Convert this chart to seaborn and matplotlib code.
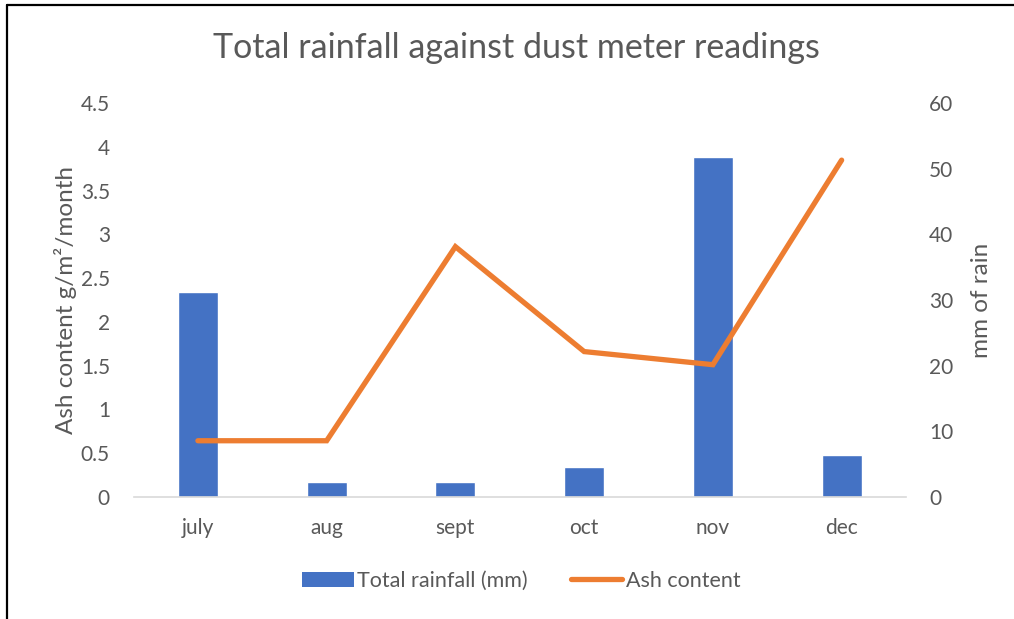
import numpy as np
import pandas as pd
import matplotlib
matplotlib.use("Agg")
import matplotlib.pyplot as plt
from matplotlib.lines import Line2D
from matplotlib.patches import Patch
import seaborn as sns

months = ["july", "aug", "sept", "oct", "nov", "dec"]
rainfall_mm = [31.2, 2.3, 2.3, 4.5, 51.8, 6.3]
ash_content = [0.64, 0.64, 2.86, 1.66, 1.51, 3.85]

ash_ticks = [0, 0.5, 1, 1.5, 2, 2.5, 3, 3.5, 4, 4.5]
ash_tick_labels = ["0", "0.5", "1", "1.5", "2", "2.5", "3", "3.5", "4", "4.5"]
rain_ticks = [0, 10, 20, 30, 40, 50, 60]

BLUE = "#4472C4"
ORANGE = "#ED7D31"
GREY_TEXT = "#595959"

sns.set_theme(style="white")
plt.rcParams["font.family"] = ["Lato", "DejaVu Sans"]

df = pd.DataFrame({"month": months, "rain": rainfall_mm, "ash": ash_content,
                   "pos": np.arange(len(months))})

fig = plt.figure(figsize=(10.14, 6.19), dpi=100)
ax = fig.add_axes([0.1317, 0.1976, 0.7618, 0.6355])
ax2 = ax.twinx()

# rainfall bars on the right-hand axis
sns.barplot(data=df, x="month", y="rain", order=months, color=BLUE,
            width=0.31, saturation=1, ax=ax2, zorder=1)
# ash content line on the left-hand axis, drawn above the bars
sns.lineplot(data=df, x="pos", y="ash", color=ORANGE, linewidth=3.8,
             ax=ax, solid_capstyle="round", solid_joinstyle="miter", zorder=3)
ax.set_zorder(ax2.get_zorder() + 1)
ax.patch.set_visible(False)

ax.set_xlim(-0.5, len(months) - 0.5)
ax.set_ylim(0, 4.5)
ax2.set_ylim(0, 60)
ax.set_yticks(ash_ticks)
ax.set_yticklabels(ash_tick_labels)
ax2.set_yticks(rain_ticks)
ax.set_xticks(np.arange(len(months)))
ax.set_xticklabels(months)

for a in (ax, ax2):
    for s in a.spines.values():
        s.set_visible(False)
    a.grid(False)
    a.tick_params(axis="both", length=0, labelsize=15, colors=GREY_TEXT)
ax.spines["bottom"].set_visible(True)
ax.spines["bottom"].set_color("#D9D9D9")
ax.spines["bottom"].set_linewidth(1.2)
ax.tick_params(axis="y", pad=17)
ax.tick_params(axis="x", pad=15)
ax2.tick_params(axis="y", pad=16.5)
ax2.set_xlabel("")

ax.set_xlabel("")
ax.set_ylabel("Ash content g/m²/month", fontsize=17.5, color=GREY_TEXT, labelpad=3)
ax2.set_ylabel("mm of rain", fontsize=17.5, color=GREY_TEXT, labelpad=13)

fig.text(0.509, 1 - 48 / 619, "Total rainfall against dust meter readings",
         ha="center", va="center", fontsize=24.5, color=GREY_TEXT)

handles = [Patch(facecolor=BLUE, edgecolor="none"),
           Line2D([0], [0], color=ORANGE, linewidth=3.8, solid_capstyle="round")]
fig.legend(handles, ["Total rainfall (mm)", "Ash content"], loc="center",
           bbox_to_anchor=(0.514, 1 - 581 / 619), ncol=2, frameon=False,
           fontsize=15.5, labelcolor=GREY_TEXT, handlelength=2.4,
           handletextpad=0.15, columnspacing=2.0)

# thin frame along the left and top edges
fig.add_artist(Line2D([7 / 1014, 7 / 1014], [0, 1 - 4.5 / 619],
                      transform=fig.transFigure, color="black", linewidth=1.6))
fig.add_artist(Line2D([7 / 1014, 1], [1 - 4.5 / 619, 1 - 4.5 / 619],
                      transform=fig.transFigure, color="black", linewidth=1.6))

fig.savefig("out.png", dpi=100)
